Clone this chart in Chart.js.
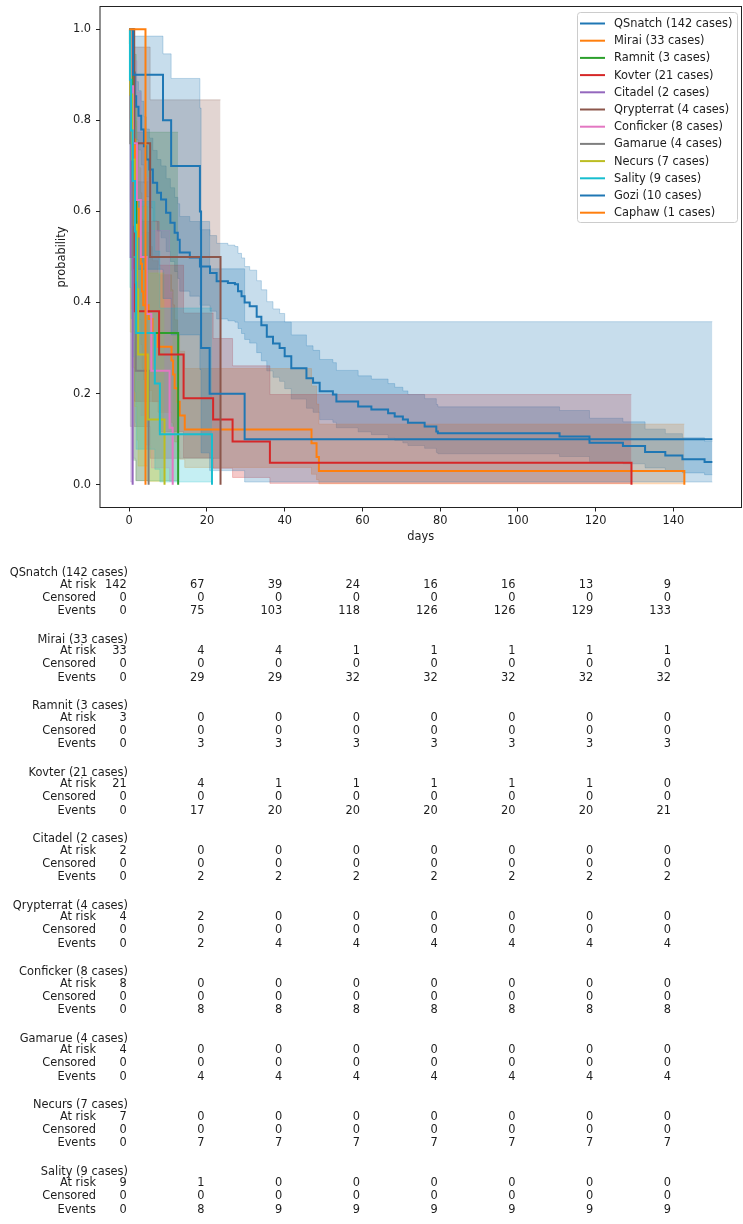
<!DOCTYPE html>
<html>
<head>
<meta charset="utf-8">
<script src="https://cdn.jsdelivr.net/npm/chart.js@4.4.0/dist/chart.umd.min.js"></script>
<style>
  html, body { margin: 0; padding: 0; background: #fff; }
  #wrap { width: 743px; height: 1224px; }
</style>
</head>
<body>
<div id="wrap"><canvas id="km" width="743" height="1224"></canvas></div>
<script>
// survival curves (days, probability, lower / upper band)
const names = ['QSnatch', 'Mirai', 'Ramnit', 'Kovter', 'Citadel', 'Qrypterrat', 'Conficker', 'Gamarue', 'Necurs', 'Sality', 'Gozi', 'Caphaw'];
const cases = [142, 33, 3, 21, 2, 4, 8, 4, 7, 9, 10, 1];

const qsnatchT = [0, 1.1, 1.4, 1.8, 2.4, 3.1, 3.8, 4.4, 5.2, 6.1, 7.2, 8.2, 9.5, 10.6, 11.7, 12.5, 13.0, 15.6, 18.2, 20.8, 22.5, 25.4, 27.2, 28.0, 28.9, 29.7, 31.0, 32.8, 34.0, 35.4, 37.0, 38.7, 40.0, 41.7, 45.6, 47.3, 49.0, 52.4, 53.3, 58.9, 62.3, 66.6, 68.3, 70.4, 71.7, 76.0, 79.0, 79.4, 110.7, 118.4, 127.0, 132.7, 137.9, 142.3, 148.0, 150];
const qsnatchS = [1, .905, .853, .83, .81, .78, .743, .714, .692, .663, .641, .626, .597, .575, .553, .538, .51, .499, .479, .465, .447, .443, .44, .425, .414, .40, .392, .369, .35, .325, .31, .30, .282, .256, .234, .224, .205, .198, .183, .172, .165, .157, .150, .143, .136, .128, .117, .113, .106, .092, .085, .072, .064, .056, .05, .05];
const qsnatchLo = [1, .844, .787, .757, .735, .702, .662, .632, .608, .579, .557, .542, .512, .490, .468, .453, .425, .414, .394, .381, .364, .360, .357, .343, .332, .319, .311, .290, .272, .250, .236, .227, .211, .188, .168, .159, .143, .137, .125, .116, .110, .103, .097, .092, .086, .080, .071, .068, .062, .051, .046, .037, .031, .026, .022, .022];
const qsnatchHi = [1, .943, .902, .885, .865, .842, .808, .781, .761, .734, .714, .700, .672, .652, .631, .617, .589, .578, .560, .547, .530, .526, .523, .508, .498, .479, .471, .448, .428, .402, .386, .376, .357, .329, .305, .295, .275, .268, .251, .239, .232, .222, .214, .206, .198, .189, .176, .171, .163, .146, .138, .122, .112, .103, .095, .095];

const miraiT = [0, 0.2, 0.4, 0.6, 0.8, 1.0, 1.5, 2.0, 2.5, 3.0, 3.3, 3.6, 5.0, 6.0, 7.4, 10.9, 11.3, 11.7, 12.5, 13.0, 14.3, 46.9, 48.2, 48.8, 142.8];
const miraiS = [1, .970, .939, .909, .848, .758, .667, .606, .545, .485, .424, .394, .364, .333, .303, .273, .242, .212, .182, .152, .121, .091, .061, .030, 0];
const miraiLo = [1, .804, .778, .744, .672, .574, .483, .420, .363, .308, .256, .231, .207, .182, .159, .136, .114, .094, .074, .056, .038, .023, .011, .002, .002];
const miraiHi = [1, .996, .984, .970, .932, .871, .799, .749, .696, .641, .582, .554, .523, .492, .461, .428, .395, .362, .328, .293, .255, .217, .177, .133, .133];

const ramnitT = [0, 0.8, 1.8, 12.6];
const ramnitS = [1, .667, .333, 0];
const ramnitLo = [1, .054, .009, .009];
const ramnitHi = [1, .945, .774, .774];

const kovterT = [0, 0.3, 0.6, 1.0, 1.3, 1.4, 7.7, 14.0, 21.6, 26.6, 36.2, 129.2];
const kovterS = [1, .857, .714, .571, .476, .381, .286, .190, .143, .095, .048, 0];
const kovterLo = [1, .62, .471, .338, .257, .183, .117, .059, .036, .016, .003, .003];
const kovterHi = [1, .952, .86, .749, .667, .578, .482, .377, .321, .261, .198, .198];

const citadelT = [0, 0.4, 0.9];
const citadelS = [1, .5, 0];
const citadelLo = [1, .006, .006];
const citadelHi = [1, .91, .91];

const qrypterratT = [0, 1.3, 5.4, 23.5];
const qrypterratS = [1, .75, .5, 0];
const qrypterratLo = [1, .128, .058, .058];
const qrypterratHi = [1, .961, .845, .845];

const confickerT = [0, 0.5, 1.0, 2.0, 3.0, 4.5, 5.7, 10.4, 11.2];
const confickerS = [1, .875, .75, .625, .5, .375, .25, .125, 0];
const confickerLo = [1, .387, .315, .229, .152, .087, .037, .007, .007];
const confickerHi = [1, .981, .931, .861, .775, .674, .558, .423, .423];

const gamarueT = [0, 0.3, 0.9, 1.7, 5.0];
const gamarueS = [1, .75, .5, .25, 0];
const gamarueLo = [1, .128, .058, .009, .009];
const gamarueHi = [1, .961, .845, .665, .665];

const necursT = [0, 0.3, 0.8, 1.4, 2.0, 2.3, 4.8, 9.1];
const necursS = [1, .857, .714, .571, .429, .286, .143, 0];
const necursLo = [1, .335, .258, .172, .098, .041, .007, .007];
const necursHi = [1, .979, .92, .837, .735, .611, .465, .465];

const salityT = [0, 0.2, 0.5, 0.9, 1.5, 1.7, 1.8, 6.6, 7.9, 21.3];
const salityS = [1, .889, .778, .667, .556, .444, .333, .222, .111, 0];
const salityLo = [1, .433, .365, .281, .204, .136, .078, .034, .006, .006];
const salityHi = [1, .984, .939, .878, .805, .72, .622, .513, .388, .388];

const goziT = [0, 1.0, 8.7, 10.8, 18.2, 18.5, 20.7, 29.7, 150];
const goziS = [1, .9, .8, .7, .6, .3, .2, .1, .1];
const goziLo = [1, .473, .409, .329, .253, .07, .031, .006, .006];
const goziHi = [1, .985, .946, .892, .827, .578, .474, .358, .358];

const caphawT = [0, 4.2];
const caphawS = [1, 0];

const xTicks = [0, 20, 40, 60, 80, 100, 120, 140];
const yTicks = [0, 0.2, 0.4, 0.6, 0.8, 1.0];

// at-risk table, one row per group, one column per x tick
const atRisk = [
  [142, 67, 39, 24, 16, 16, 13, 9],
  [33, 4, 4, 1, 1, 1, 1, 1],
  [3, 0, 0, 0, 0, 0, 0, 0],
  [21, 4, 1, 1, 1, 1, 1, 0],
  [2, 0, 0, 0, 0, 0, 0, 0],
  [4, 2, 0, 0, 0, 0, 0, 0],
  [8, 0, 0, 0, 0, 0, 0, 0],
  [4, 0, 0, 0, 0, 0, 0, 0],
  [7, 0, 0, 0, 0, 0, 0, 0],
  [9, 1, 0, 0, 0, 0, 0, 0]
];
const censored = [
  [0, 0, 0, 0, 0, 0, 0, 0],
  [0, 0, 0, 0, 0, 0, 0, 0],
  [0, 0, 0, 0, 0, 0, 0, 0],
  [0, 0, 0, 0, 0, 0, 0, 0],
  [0, 0, 0, 0, 0, 0, 0, 0],
  [0, 0, 0, 0, 0, 0, 0, 0],
  [0, 0, 0, 0, 0, 0, 0, 0],
  [0, 0, 0, 0, 0, 0, 0, 0],
  [0, 0, 0, 0, 0, 0, 0, 0],
  [0, 0, 0, 0, 0, 0, 0, 0]
];
const events = [
  [0, 75, 103, 118, 126, 126, 129, 133],
  [0, 29, 29, 32, 32, 32, 32, 32],
  [0, 3, 3, 3, 3, 3, 3, 3],
  [0, 17, 20, 20, 20, 20, 20, 21],
  [0, 2, 2, 2, 2, 2, 2, 2],
  [0, 2, 4, 4, 4, 4, 4, 4],
  [0, 8, 8, 8, 8, 8, 8, 8],
  [0, 4, 4, 4, 4, 4, 4, 4],
  [0, 7, 7, 7, 7, 7, 7, 7],
  [0, 8, 9, 9, 9, 9, 9, 9]
];

const curves = [
  [qsnatchT, qsnatchS, qsnatchLo, qsnatchHi],
  [miraiT, miraiS, miraiLo, miraiHi],
  [ramnitT, ramnitS, ramnitLo, ramnitHi],
  [kovterT, kovterS, kovterLo, kovterHi],
  [citadelT, citadelS, citadelLo, citadelHi],
  [qrypterratT, qrypterratS, qrypterratLo, qrypterratHi],
  [confickerT, confickerS, confickerLo, confickerHi],
  [gamarueT, gamarueS, gamarueLo, gamarueHi],
  [necursT, necursS, necursLo, necursHi],
  [salityT, salityS, salityLo, salityHi],
  [goziT, goziS, goziLo, goziHi],
  [caphawT, caphawS, null, null]
];

const palette = ['#1f77b4', '#ff7f0e', '#2ca02c', '#d62728', '#9467bd', '#8c564b', '#e377c2', '#7f7f7f', '#bcbd22', '#17becf', '#1f77b4', '#ff7f0e'];
const FONT = '11.4px "DejaVu Sans"';
const TEXT = '#1c1c1c';

function rgba(hex, a) {
  const n = parseInt(hex.slice(1), 16);
  return 'rgba(' + (n >> 16) + ',' + ((n >> 8) & 255) + ',' + (n & 255) + ',' + a + ')';
}
function pts(t, v) {
  return t.map((x, i) => ({ x: x, y: v[i] }));
}

const datasets = [];
curves.forEach((c, i) => {
  const col = palette[i];
  if (c[2]) {
    datasets.push({
      label: '_lo' + i, data: pts(c[0], c[2]), stepped: true, pointRadius: 0,
      borderColor: rgba(col, 0.25), borderWidth: 1, fill: false, order: 1000 - 2 * i, band: true
    });
    datasets.push({
      label: '_hi' + i, data: pts(c[0], c[3]), stepped: true, pointRadius: 0,
      borderColor: rgba(col, 0.25), borderWidth: 1, backgroundColor: rgba(col, 0.25),
      fill: '-1', order: 999 - 2 * i, band: true
    });
  }
  datasets.push({
    label: names[i] + ' (' + cases[i] + ' cases)', data: pts(c[0], c[1]), stepped: true,
    pointRadius: 0, borderColor: col, borderWidth: 2, fill: false, order: 100 - i
  });
});

const decor = {
  id: 'decor',
  afterDraw(chart) {
    const ctx = chart.ctx, a = chart.chartArea, xs = chart.scales.x;
    ctx.save();
    // spines
    ctx.strokeStyle = '#222';
    ctx.lineWidth = 1;
    ctx.strokeRect(a.left, a.top, a.right - a.left, a.bottom - a.top);

    // axis titles
    ctx.fillStyle = TEXT;
    ctx.font = FONT;
    ctx.textAlign = 'center';
    ctx.textBaseline = 'middle';
    ctx.fillText('days', (a.left + a.right) / 2, 537);
    ctx.save();
    ctx.translate(62, (a.top + a.bottom) / 2);
    ctx.rotate(-Math.PI / 2);
    ctx.fillText('probability', 0, 0);
    ctx.restore();

    // legend
    const lines = chart.data.datasets.filter(d => !d.band);
    ctx.fillStyle = 'rgba(255,255,255,0.8)';
    ctx.strokeStyle = '#cccccc';
    ctx.lineWidth = 1;
    ctx.beginPath();
    ctx.roundRect(577.5, 12.5, 160, 210, 3);
    ctx.fill();
    ctx.stroke();
    ctx.textAlign = 'left';
    lines.forEach((d, i) => {
      const y = 23.5 + i * 17.2;
      ctx.strokeStyle = d.borderColor;
      ctx.lineWidth = 2;
      ctx.beginPath();
      ctx.moveTo(580, y);
      ctx.lineTo(605, y);
      ctx.stroke();
      ctx.fillStyle = TEXT;
      ctx.fillText(d.label, 614, y + 0.5);
    });

    // at-risk table
    atRisk.forEach((row, g) => {
      const y0 = 573.5 + g * 66.5;
      ctx.fillStyle = TEXT;
      ctx.textAlign = 'right';
      ctx.fillText(names[g] + ' (' + cases[g] + ' cases)', 128, y0);
      ctx.fillText('At risk', 96, y0 + 11.5);
      ctx.fillText('Censored', 96, y0 + 24.5);
      ctx.fillText('Events', 96, y0 + 38);
      xTicks.forEach((t, k) => {
        const x = xs.getPixelForValue(t) - 2.5;
        ctx.fillText(String(row[k]), x, y0 + 11.5);
        ctx.fillText(String(censored[g][k]), x, y0 + 24.5);
        ctx.fillText(String(events[g][k]), x, y0 + 38);
      });
    });
    ctx.restore();
  }
};

new Chart(document.getElementById('km'), {
  type: 'line',
  data: { datasets: datasets },
  options: {
    responsive: false,
    animation: false,
    devicePixelRatio: 1,
    layout: { padding: { top: 6.5, right: 1.5, left: 0, bottom: 0 } },
    plugins: { legend: { display: false }, tooltip: { enabled: false } },
    scales: {
      x: {
        type: 'linear', min: -7.5, max: 157.5,
        afterBuildTicks: s => { s.ticks = xTicks.map(v => ({ value: v })); },
        afterFit: s => { s.height = 1224 - 507.5; s.paddingLeft = 0; s.paddingRight = 0; },
        ticks: { autoSkip: false, maxRotation: 0, padding: 3, color: TEXT, font: { family: 'DejaVu Sans', size: 11.4 }, callback: v => String(v) },
        grid: { display: true, drawOnChartArea: false, drawTicks: true, tickLength: 4, tickColor: '#222', tickWidth: 1 },
        border: { display: false }
      },
      y: {
        type: 'linear', min: -0.05, max: 1.05,
        afterBuildTicks: s => { s.ticks = yTicks.map(v => ({ value: v })); },
        afterFit: s => { s.width = 100; s.paddingTop = 0; s.paddingBottom = 0; },
        ticks: { padding: 5, color: TEXT, font: { family: 'DejaVu Sans', size: 11.4 }, callback: v => Number(v).toFixed(1) },
        grid: { display: true, drawOnChartArea: false, drawTicks: true, tickLength: 4, tickColor: '#222', tickWidth: 1 },
        border: { display: false }
      }
    }
  },
  plugins: [decor]
});
</script>
</body>
</html>
